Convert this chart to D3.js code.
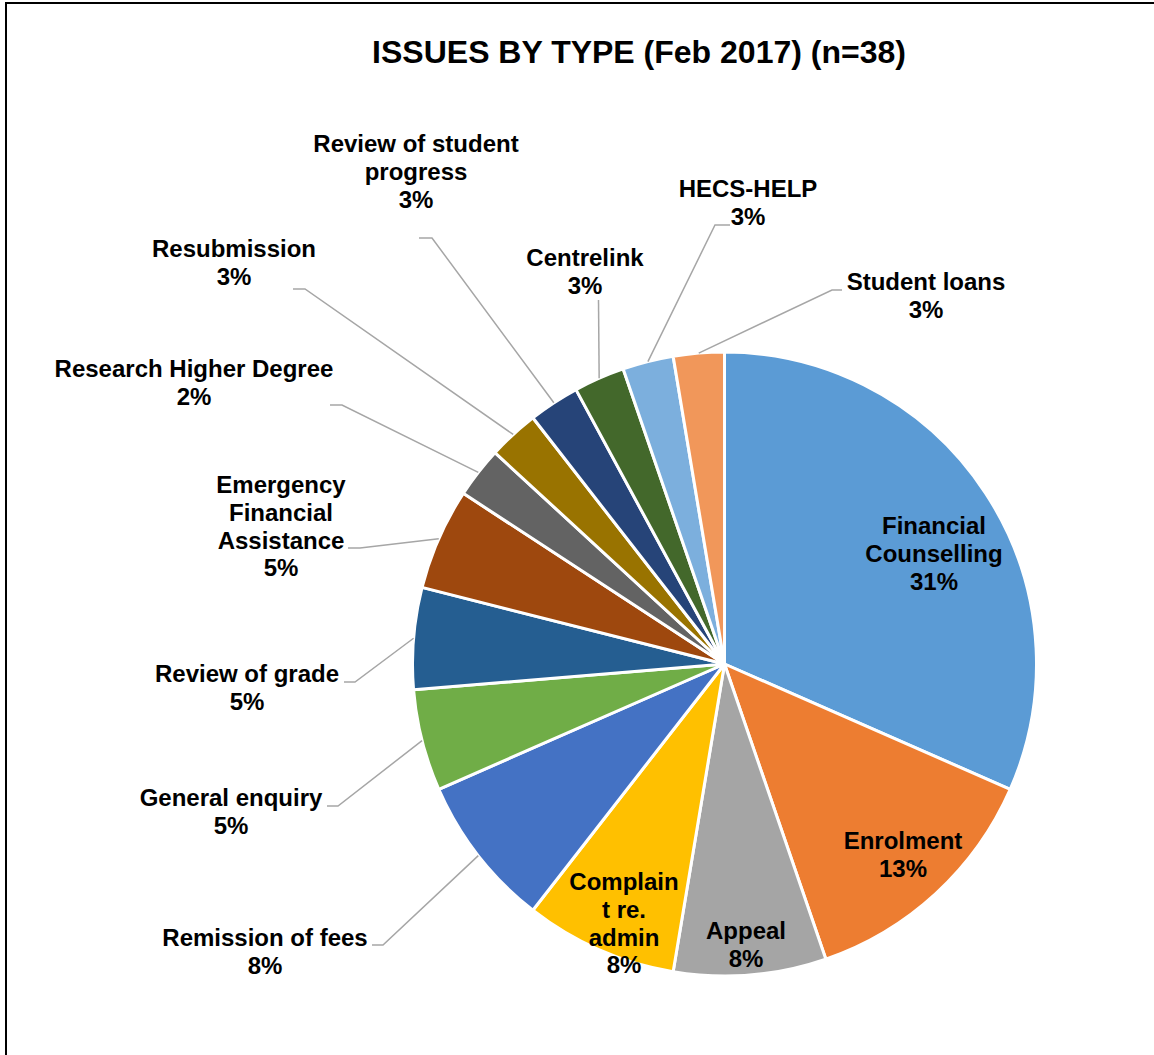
<!DOCTYPE html>
<html>
<head>
<meta charset="utf-8">
<script src="https://cdn.jsdelivr.net/npm/d3@7"></script>
<style>
  html, body { margin: 0; padding: 0; background: #fff; }
  svg { display: block; }
  text { font-family: "Liberation Sans", Arial, sans-serif; font-weight: bold; fill: #000; }
</style>
</head>
<body>
<svg id="chart" width="1154" height="1055"></svg>
<script>
// ---- data ----
const title = "ISSUES BY TYPE (Feb 2017) (n=38)";
const categories = [
  "Financial Counselling", "Enrolment", "Appeal", "Complaint re. admin",
  "Remission of fees", "General enquiry", "Review of grade",
  "Emergency Financial Assistance", "Research Higher Degree", "Resubmission",
  "Review of student progress", "Centrelink", "HECS-HELP", "Student loans"
];
const counts = [12, 5, 3, 3, 3, 2, 2, 2, 1, 1, 1, 1, 1, 1];
const percentLabels = ["31%", "13%", "8%", "8%", "8%", "5%", "5%", "5%", "2%", "3%", "3%", "3%", "3%", "3%"];
// label text as wrapped in the picture
const labelLines = [
  ["Financial", "Counselling"], ["Enrolment"], ["Appeal"], ["Complain", "t re.", "admin"],
  ["Remission of fees"], ["General enquiry"], ["Review of grade"],
  ["Emergency", "Financial", "Assistance"], ["Research Higher Degree"], ["Resubmission"],
  ["Review of student", "progress"], ["Centrelink"], ["HECS-HELP"], ["Student loans"]
];
const colors = ["#5B9BD5", "#ED7D31", "#A5A5A5", "#FFC000", "#4472C4", "#70AD47", "#255E91",
                "#9E480E", "#636363", "#997300", "#264478", "#43682B", "#7CAFDD", "#F1975A"];

// ---- layout ----
const W = 1154, H = 1055;
const cx = 724.5, cy = 664, R = 312;
const fontSize = 24, lineH = 27.6;
// label centre (x, first-line centre y) and leader polyline start points (before the arc point)
const labelLayout = [
  {x: 934, y: 527, leader: null},
  {x: 903, y: 842, leader: null},
  {x: 746, y: 932, leader: null},
  {x: 624, y: 883, leader: null},
  {x: 265, y: 939, leader: [[372, 945], [383, 945]]},
  {x: 231, y: 799, leader: [[327, 806], [338, 806]]},
  {x: 247, y: 675, leader: [[344, 682], [355, 682]]},
  {x: 281, y: 486, leader: [[348, 548], [360, 548]]},
  {x: 194, y: 370, leader: [[330, 405], [342, 405]]},
  {x: 234, y: 250, leader: [[293, 289], [305, 289]]},
  {x: 416, y: 145, leader: [[419, 238], [432, 238]]},
  {x: 585, y: 259, leader: [[598.5, 300]]},
  {x: 748, y: 190, leader: [[730, 225], [715, 225]]},
  {x: 926, y: 283, leader: [[842, 290], [832, 290]]}
];

const svg = d3.select("#chart");

// frame (left and top edges visible; extends beyond the picture)
svg.append("rect")
  .attr("x", 6).attr("y", 3).attr("width", W + 20).attr("height", H + 20)
  .attr("fill", "none").attr("stroke", "#000").attr("stroke-width", 2);

svg.append("text")
  .attr("x", 639).attr("y", 52 + 0.34 * 32)
  .attr("text-anchor", "middle")
  .style("font-size", "32px")
  .text(title);

const data = categories.map((c, i) => ({name: c, value: counts[i], i}));
const pie = d3.pie().value(d => d.value).sort(null).startAngle(0).endAngle(2 * Math.PI);
const arcs = pie(data);
const arc = d3.arc().innerRadius(0).outerRadius(R);

const g = svg.append("g").attr("transform", `translate(${cx},${cy})`);
g.selectAll("path.slice")
  .data(arcs)
  .join("path")
  .attr("class", "slice")
  .attr("d", arc)
  .attr("fill", d => colors[d.data.i])
  .attr("stroke", "#fff")
  .attr("stroke-width", 3)
  .attr("stroke-linejoin", "round");

// leader lines
const line = d3.line();
arcs.forEach(a => {
  const L = labelLayout[a.data.i];
  if (!L.leader) return;
  const mid = (a.startAngle + a.endAngle) / 2;
  const edge = [cx + R * Math.sin(mid), cy - R * Math.cos(mid)];
  svg.append("path")
    .attr("d", line([...L.leader, edge]))
    .attr("fill", "none")
    .attr("stroke", "#A6A6A6")
    .attr("stroke-width", 1.5);
});

// labels
arcs.forEach(a => {
  const i = a.data.i;
  const L = labelLayout[i];
  const lines = [...labelLines[i], percentLabels[i]];
  const t = svg.append("text")
    .attr("text-anchor", "middle")
    .style("font-size", fontSize + "px");
  lines.forEach((s, k) => {
    t.append("tspan")
      .attr("x", L.x)
      .attr("y", L.y + k * lineH + 0.31 * fontSize)
      .text(s);
  });
});
</script>
</body>
</html>
